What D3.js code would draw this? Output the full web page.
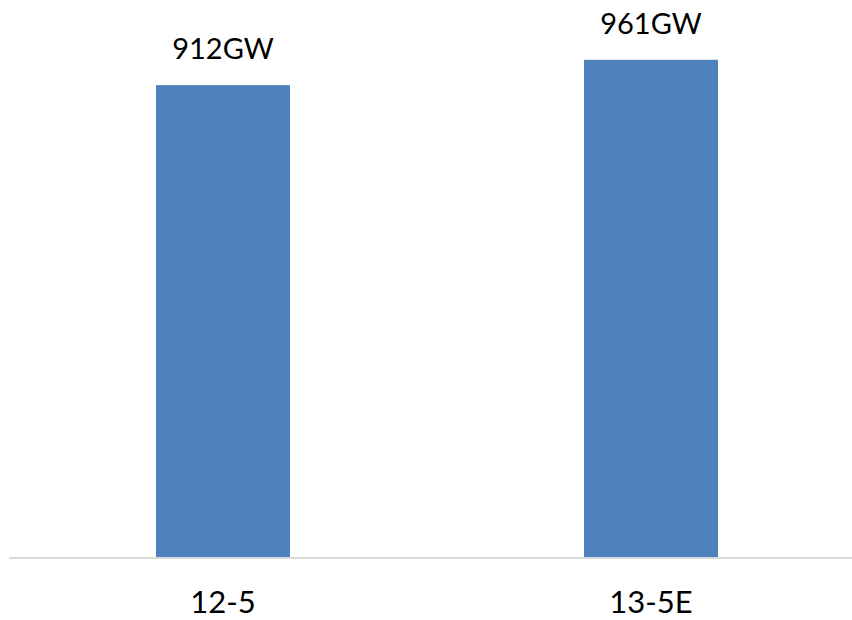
<!DOCTYPE html>
<html>
<head>
<meta charset="utf-8">
<script src="https://cdn.jsdelivr.net/npm/d3@7/dist/d3.min.js"></script>
<style>
  html, body { margin: 0; padding: 0; background: #ffffff; }
  svg { display: block; }
</style>
</head>
<body>
<div id="chart"></div>
<script>
const categories = ["12-5", "13-5E"];
const values = [912, 961];
const valueLabels = ["912GW", "961GW"];

const W = 852, H = 620;
const svg = d3.select("#chart").append("svg").attr("width", W).attr("height", H);

const x = d3.scaleBand().domain(categories).range([9, 865])
  .paddingInner(0.687).paddingOuter(0.3435);
const y = d3.scaleLinear().domain([0, 1000]).range([557, 39.6]);

svg.selectAll("rect.bar").data(values).enter().append("rect")
  .attr("class", "bar")
  .attr("x", (d, i) => x(categories[i]))
  .attr("width", x.bandwidth())
  .attr("y", d => y(d))
  .attr("height", d => y(0) - y(d))
  .attr("fill", "#4f81bd");

svg.append("line")
  .attr("x1", 9).attr("x2", W)
  .attr("y1", y(0) + 1).attr("y2", y(0) + 1)
  .attr("stroke", "#d9d9d9").attr("stroke-width", 2);

svg.selectAll("text.val").data(values).enter().append("text")
  .attr("class", "val")
  .attr("x", (d, i) => x(categories[i]) + x.bandwidth() / 2)
  .attr("y", d => y(d) - 26)
  .attr("text-anchor", "middle")
  .attr("font-family", "Lato, 'Open Sans', sans-serif")
  .attr("font-size", 29)
  .attr("fill", "#000")
  .text((d, i) => valueLabels[i]);

svg.selectAll("text.cat").data(categories).enter().append("text")
  .attr("class", "cat")
  .attr("x", d => x(d) + x.bandwidth() / 2)
  .attr("y", 613)
  .attr("text-anchor", "middle")
  .attr("font-family", "Lato, 'Open Sans', sans-serif")
  .attr("font-size", 31)
  .attr("fill", "#000")
  .text(d => d);
</script>
</body>
</html>
